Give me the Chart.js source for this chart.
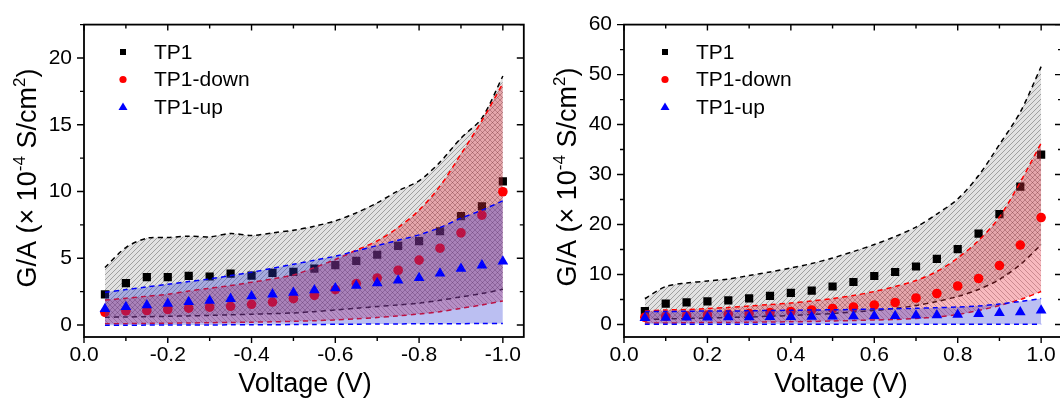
<!DOCTYPE html>
<html>
<head>
<meta charset="utf-8">
<script src="https://cdn.jsdelivr.net/npm/chart.js@4.4.1/dist/chart.umd.min.js"></script>
<style>
    html, body { margin: 0; padding: 0; background: #fff; }
    #wrap { position: relative; width: 1060px; height: 402px; overflow: hidden; }
    #leftChart { position: absolute; left: 0; top: 0; }
    #rightChart { position: absolute; left: 530px; top: 0; }
</style>
</head>
<body>
<div id="wrap">
    <canvas id="leftChart" width="530" height="402"></canvas>
    <canvas id="rightChart" width="545" height="402"></canvas>
</div>
<script>
// ---------- Data ----------
const seriesNames = ["TP1", "TP1-down", "TP1-up"];

// left panel: reverse bias
const voltageRev = [-0.05, -0.10, -0.15, -0.20, -0.25, -0.30, -0.35, -0.40, -0.45, -0.50,
                    -0.55, -0.60, -0.65, -0.70, -0.75, -0.80, -0.85, -0.90, -0.95, -1.00];
const tp1Rev   = [2.30, 3.13, 3.58, 3.58, 3.68, 3.63, 3.85, 3.70, 3.90, 3.98, 4.22, 4.48, 4.80, 5.26, 5.93, 6.28, 7.02, 8.15, 8.88, 10.75];
const downRev  = [0.95, 1.05, 1.08, 1.16, 1.26, 1.33, 1.40, 1.55, 1.72, 1.97, 2.22, 2.65, 3.10, 3.52, 4.10, 4.86, 5.75, 6.90, 8.23, 9.98];
const upRev    = [1.21, 1.36, 1.48, 1.60, 1.72, 1.82, 1.96, 2.16, 2.30, 2.42, 2.60, 2.75, 2.95, 3.14, 3.34, 3.53, 3.86, 4.22, 4.47, 4.76];
const tp1HiRev  = [4.30, 5.80, 6.50, 6.55, 6.65, 6.60, 6.85, 6.70, 6.90, 7.10, 7.40, 7.80, 8.40, 9.15, 10.05, 10.80, 12.20, 14.00, 15.50, 18.65];
const tp1LoRev  = [0.58, 0.60, 0.62, 0.65, 0.68, 0.72, 0.76, 0.80, 0.85, 0.90, 1.00, 1.12, 1.25, 1.38, 1.50, 1.63, 1.85, 2.10, 2.35, 2.67];
const downHiRev = [1.87, 2.00, 2.15, 2.30, 2.55, 2.75, 2.95, 3.20, 3.45, 3.75, 4.30, 4.90, 5.60, 6.30, 7.30, 8.60, 10.40, 12.80, 15.30, 18.10];
const downLoRev = [0.10, 0.10, 0.12, 0.13, 0.15, 0.17, 0.19, 0.21, 0.24, 0.27, 0.32, 0.38, 0.46, 0.56, 0.68, 0.82, 1.00, 1.25, 1.50, 1.80];
const upHiRev   = [2.45, 2.65, 2.85, 3.05, 3.25, 3.45, 3.70, 3.95, 4.25, 4.55, 4.85, 5.15, 5.55, 5.95, 6.35, 6.75, 7.30, 8.00, 8.60, 9.30];
const upLoRev   = [-0.02, -0.02, -0.01, -0.01, 0.00, 0.00, 0.01, 0.01, 0.02, 0.03, 0.04, 0.05, 0.06, 0.07, 0.08, 0.09, 0.10, 0.10, 0.11, 0.12];

// right panel: forward bias
const voltageFwd = [0.05, 0.10, 0.15, 0.20, 0.25, 0.30, 0.35, 0.40, 0.45, 0.50,
                    0.55, 0.60, 0.65, 0.70, 0.75, 0.80, 0.85, 0.90, 0.95, 1.00];
const tp1Fwd   = [2.70, 4.18, 4.44, 4.64, 4.83, 5.22, 5.73, 6.31, 6.76, 7.60, 8.50, 9.70, 10.50, 11.60, 13.15, 15.08, 18.17, 22.10, 27.60, 34.00];
const downFwd  = [1.45, 1.60, 1.75, 1.90, 2.05, 2.20, 2.40, 2.60, 2.90, 3.20, 3.50, 3.90, 4.40, 5.30, 6.20, 7.70, 9.20, 11.80, 15.90, 21.40];
const upFwd    = [1.30, 1.35, 1.40, 1.40, 1.45, 1.45, 1.50, 1.50, 1.55, 1.60, 1.65, 1.70, 1.70, 1.80, 1.85, 1.95, 2.10, 2.30, 2.45, 2.80];
const tp1HiFwd  = [5.2, 7.6, 8.3, 8.7, 9.1, 9.8, 10.5, 11.3, 12.2, 13.3, 14.6, 16.0, 17.6, 19.5, 22.1, 25.1, 29.8, 36.0, 42.5, 51.6];
const tp1LoFwd  = [1.0, 1.1, 1.2, 1.3, 1.4, 1.5, 1.65, 1.8, 2.0, 2.2, 2.5, 2.8, 3.2, 3.8, 4.6, 5.6, 7.0, 9.0, 12.0, 16.0];
const downHiFwd = [2.7, 2.9, 3.0, 3.2, 3.4, 3.7, 4.0, 4.3, 4.7, 5.2, 5.8, 6.6, 7.6, 8.8, 10.6, 13.3, 16.8, 21.5, 28.5, 36.3];
const downLoFwd = [0.3, 0.3, 0.35, 0.4, 0.4, 0.45, 0.5, 0.55, 0.6, 0.7, 0.8, 0.9, 1.0, 1.2, 1.5, 2.0, 2.8, 3.8, 5.0, 6.6];
const upHiFwd   = [2.6, 2.6, 2.65, 2.7, 2.7, 2.75, 2.8, 2.85, 2.9, 2.95, 3.0, 3.1, 3.15, 3.25, 3.35, 3.5, 3.7, 4.1, 4.6, 5.2];
const upLoFwd   = [0.05, 0.05, 0.05, 0.05, 0.05, 0.05, 0.05, 0.05, 0.05, 0.05, 0.05, 0.05, 0.05, 0.05, 0.05, 0.05, 0.05, 0.05, 0.05, 0.05];

// tick labels
const xLabelsRev = ["0.0", "-0.2", "-0.4", "-0.6", "-0.8", "-1.0"];
const xLabelsFwd = ["0.0", "0.2", "0.4", "0.6", "0.8", "1.0"];
const yLabelsRev = ["0", "5", "10", "15", "20"];
const yLabelsFwd = ["0", "10", "20", "30", "40", "50", "60"];

const xTitle = "Voltage (V)";

// ---------- Helpers ----------
const fontFam = '"Liberation Sans", Arial, Helvetica, sans-serif';

function pts(xs, ys) {
    return xs.map((x, i) => ({ x: x, y: ys[i] }));
}

function hatchPattern(bg, fg, dir) {
    const s = 5;
    const c = document.createElement("canvas");
    c.width = s; c.height = s;
    const g = c.getContext("2d");
    g.fillStyle = bg;
    g.fillRect(0, 0, s, s);
    g.strokeStyle = fg;
    g.lineWidth = 0.9;
    g.beginPath();
    if (dir > 0) {
        g.moveTo(0, s); g.lineTo(s, 0);
        g.moveTo(-1, 1); g.lineTo(1, -1);
        g.moveTo(s - 1, s + 1); g.lineTo(s + 1, s - 1);
    } else {
        g.moveTo(0, 0); g.lineTo(s, s);
        g.moveTo(s - 1, -1); g.lineTo(s + 1, 1);
        g.moveTo(-1, s - 1); g.lineTo(1, s + 1);
    }
    g.stroke();
    return g.createPattern(c, "repeat");
}

const grayFill = hatchPattern("rgba(150,150,150,0.28)", "rgba(40,40,40,0.40)", 1);
const redFill = hatchPattern("rgba(235,50,65,0.34)", "rgba(90,20,30,0.32)", -1);
const blueFill = "rgba(45,55,215,0.32)";

function isMajor(v, step) {
    const r = v / step;
    return Math.abs(r - Math.round(r)) < 1e-6;
}

function band(xs, ys, color, order) {
    return {
        data: pts(xs, ys), showLine: true, borderColor: color, borderWidth: 1.5,
        borderDash: [5, 4], pointRadius: 0, tension: 0.3, fill: false, order: order
    };
}

function buildDatasets(xs, d) {
    return [
        Object.assign(band(xs, d.tp1Hi, "#000000", 8), { fill: { target: 1 }, backgroundColor: grayFill }),
        band(xs, d.tp1Lo, "#000000", 7),
        { label: seriesNames[0], data: pts(xs, d.tp1), pointStyle: "rect", pointRadius: 5.8,
          backgroundColor: "#000000", borderWidth: 0, order: 6 },
        Object.assign(band(xs, d.downHi, "#ff0000", 5), { fill: { target: 4 }, backgroundColor: redFill }),
        band(xs, d.downLo, "#ff0000", 4),
        { label: seriesNames[1], data: pts(xs, d.down), pointStyle: "circle", pointRadius: 4.8,
          backgroundColor: "#ff0000", borderWidth: 0, order: 3 },
        Object.assign(band(xs, d.upHi, "#0000ff", 2), { fill: { target: 7 }, backgroundColor: blueFill }),
        band(xs, d.upLo, "#0000ff", 1),
        { label: seriesNames[2], data: pts(xs, d.up), pointStyle: "triangle", pointRadius: 6.2,
          backgroundColor: "#0000ff", borderWidth: 0, order: 0 }
    ];
}

// ---------- Frame, ticks, legend and titles ----------
const decor = {
    id: "decor",
    afterDraw(chart, args, o) {
        const ctx = chart.ctx, a = chart.chartArea;
        const x = chart.scales.x, y = chart.scales.y;
        ctx.save();
        ctx.strokeStyle = "#000";
        ctx.lineWidth = 1.4;
        ctx.beginPath();
        x.ticks.forEach(t => {
            const px = x.getPixelForValue(t.value);
            const len = isMajor(t.value, o.xMajor) ? 6 : 4;
            ctx.moveTo(px, a.bottom); ctx.lineTo(px, a.bottom + len);
            ctx.moveTo(px, a.top); ctx.lineTo(px, a.top + len);
        });
        y.ticks.forEach(t => {
            const py = y.getPixelForValue(t.value);
            const len = isMajor(t.value, o.yMajor) ? 7 : 4;
            ctx.moveTo(a.left, py); ctx.lineTo(a.left - len, py);
            ctx.moveTo(a.right, py); ctx.lineTo(a.right - len, py);
        });
        ctx.stroke();
        ctx.lineWidth = 1.8;
        ctx.strokeRect(a.left, a.top, a.right - a.left, a.bottom - a.top);

        // legend
        const colors = ["#000000", "#ff0000", "#0000ff"];
        ctx.font = "21px " + fontFam;
        ctx.textAlign = "left";
        ctx.textBaseline = "middle";
        seriesNames.forEach((name, i) => {
            const ly = o.legY + i * 27.5;
            const lx = o.legX;
            ctx.fillStyle = colors[i];
            ctx.beginPath();
            if (i === 0) ctx.rect(lx - 3, ly - 3, 6, 6);
            else if (i === 1) ctx.arc(lx, ly, 3.6, 0, Math.PI * 2);
            else { ctx.moveTo(lx, ly - 4.5); ctx.lineTo(lx + 4.5, ly + 3); ctx.lineTo(lx - 4.5, ly + 3); ctx.closePath(); }
            ctx.fill();
            ctx.fillStyle = "#000";
            ctx.fillText(name, lx + 31, ly + 1);
        });

        // x title
        ctx.font = "27px " + fontFam;
        ctx.textAlign = "center";
        ctx.textBaseline = "alphabetic";
        ctx.fillText(xTitle, o.xTitleX, 392);

        // y title with superscripts
        const big = "27px " + fontFam, small = "17px " + fontFam;
        const parts = [["G/A (\u00d7 10", big, 0], ["-4", small, -11], [" S/cm", big, 0], ["2", small, -11], [")", big, 0]];
        let w = 0;
        parts.forEach(p => { ctx.font = p[1]; w += ctx.measureText(p[0]).width; });
        ctx.translate(o.yTitleX, o.yTitleY);
        ctx.rotate(-Math.PI / 2);
        ctx.textAlign = "left";
        let cx = -w / 2;
        parts.forEach(p => {
            ctx.font = p[1];
            ctx.fillText(p[0], cx, 9.7 + p[2]);
            cx += ctx.measureText(p[0]).width;
        });
        ctx.restore();
    }
};

function panelOptions(p) {
    return {
        responsive: false,
        animation: false,
        events: [],
        layout: { padding: { left: 0, right: p.padRight, top: 14, bottom: 0 } },
        plugins: {
            legend: { display: false },
            tooltip: { enabled: false },
            decor: p.decor
        },
        scales: {
            x: {
                type: "linear", min: p.xMin, max: p.xMax, reverse: p.reverse,
                grid: { display: false, drawTicks: false },
                border: { display: false },
                ticks: {
                    stepSize: 0.1, includeBounds: false, autoSkip: false, maxRotation: 0,
                    padding: 6, color: "#000", font: { family: fontFam, size: 21 },
                    callback: v => { const s = Number(v).toFixed(1); return p.xLabels.includes(s) ? s : ""; }
                },
                afterFit: s => { s.height = 65; }
            },
            y: {
                type: "linear", min: p.yMin, max: p.yMax,
                grid: { display: false, drawTicks: false },
                border: { display: false },
                ticks: {
                    stepSize: p.yStep, includeBounds: false, autoSkip: false,
                    padding: 12, color: "#000", font: { family: fontFam, size: 21 },
                    callback: v => { const s = String(Math.round(v * 10) / 10); return p.yLabels.includes(s) ? s : ""; }
                },
                afterFit: s => { s.width = p.yWidth; }
            }
        }
    };
}

// ---------- Charts ----------
new Chart(document.getElementById("leftChart"), {
    type: "scatter",
    data: {
        datasets: buildDatasets(voltageRev, {
            tp1: tp1Rev, down: downRev, up: upRev,
            tp1Hi: tp1HiRev, tp1Lo: tp1LoRev, downHi: downHiRev, downLo: downLoRev, upHi: upHiRev, upLo: upLoRev
        })
    },
    options: panelOptions({
        padRight: 5, yWidth: 84, xMin: -1.05, xMax: 0, reverse: true,
        yMin: -0.9, yMax: 22.5, yStep: 2.5, xLabels: xLabelsRev, yLabels: yLabelsRev,
        decor: { xMajor: 0.2, yMajor: 5, legX: 123, legY: 52, xTitleX: 305, yTitleX: 26, yTitleY: 178 }
    }),
    plugins: [decor]
});

new Chart(document.getElementById("rightChart"), {
    type: "scatter",
    data: {
        datasets: buildDatasets(voltageFwd, {
            tp1: tp1Fwd, down: downFwd, up: upFwd,
            tp1Hi: tp1HiFwd, tp1Lo: tp1LoFwd, downHi: downHiFwd, downLo: downLoFwd, upHi: upHiFwd, upLo: upLoFwd
        })
    },
    options: panelOptions({
        padRight: 13, yWidth: 94, xMin: 0, xMax: 1.05, reverse: false,
        yMin: -2.5, yMax: 60, yStep: 5, xLabels: xLabelsFwd, yLabels: yLabelsFwd,
        decor: { xMajor: 0.2, yMajor: 10, legX: 135, legY: 52, xTitleX: 311, yTitleX: 36, yTitleY: 177 }
    }),
    plugins: [decor]
});
</script>
</body>
</html>
